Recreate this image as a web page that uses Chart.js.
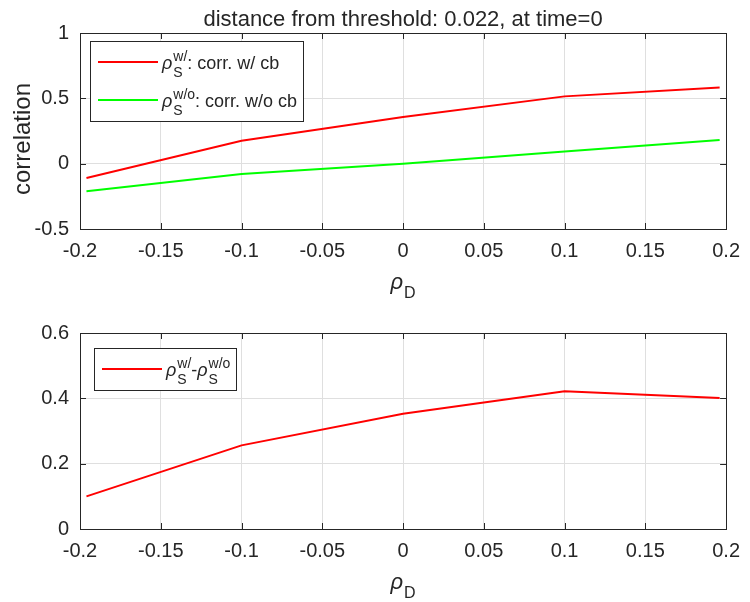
<!DOCTYPE html>
<html>
<head>
<meta charset="utf-8">
<script src="https://cdn.jsdelivr.net/npm/chart.js@4.4.1/dist/chart.umd.min.js"></script>
<style>
  html, body { margin: 0; padding: 0; background: #fff; }
  #wrap { position: relative; width: 750px; height: 602px; }
  .pane { position: absolute; left: 0; width: 750px; height: 301px; }
</style>
</head>
<body>
<div id="wrap">
  <div class="pane" style="top:0"><canvas id="corrChart" width="750" height="301"></canvas></div>
  <div class="pane" style="top:301px"><canvas id="diffChart" width="750" height="301"></canvas></div>
</div>
<script>
// rho_D values the correlations were computed at
const rhoD = [-0.196, -0.1, 0, 0.1, 0.196];
// correlation with / without cb, and their difference
const corrWith = [-0.11, 0.176, 0.357, 0.515, 0.582];
const corrWithout = [-0.212, -0.079, 0.0, 0.094, 0.181];
const corrDiff = [0.10, 0.256, 0.353, 0.422, 0.401];

const xTicks = [-0.2, -0.15, -0.1, -0.05, 0, 0.05, 0.1, 0.15, 0.2];
const xTickLabels = ['-0.2', '-0.15', '-0.1', '-0.05', '0', '0.05', '0.1', '0.15', '0.2'];
const corrTicks = [-0.5, 0, 0.5, 1];
const corrTickLabels = ['-0.5', '0', '0.5', '1'];
const diffTicks = [0, 0.2, 0.4, 0.6];
const diffTickLabels = ['0', '0.2', '0.4', '0.6'];

const FAMILY = '"Liberation Sans", Arial, Helvetica, sans-serif';
const AXIS_COLOR = '#262626';
const GRID_COLOR = '#dfdfdf';

function fontStr(size, italic) {
  return (italic ? 'italic ' : '') + size + 'px ' + FAMILY;
}

// rich text = list of groups {base, italic, sup, sub}; scripts hang off the base like TeX
function richWidth(ctx, groups, size, ratio) {
  const small = Math.round(size * ratio);
  let w = 0;
  for (const g of groups) {
    ctx.font = fontStr(size, g.italic);
    w += ctx.measureText(g.base || '').width + (g.italic ? 1 : 0);
    ctx.font = fontStr(small, false);
    w += Math.max(g.sup ? ctx.measureText(g.sup).width : 0, g.sub ? ctx.measureText(g.sub).width : 0);
  }
  return w;
}

function drawRich(ctx, groups, x, y, size, ratio) {
  const small = Math.round(size * ratio);
  const shift = size * 0.42;
  ctx.textAlign = 'left';
  ctx.textBaseline = 'alphabetic';
  for (const g of groups) {
    if (g.base) {
      ctx.font = fontStr(size, g.italic);
      ctx.fillText(g.base, x, y);
      x += ctx.measureText(g.base).width + (g.italic ? 1 : 0);
    }
    ctx.font = fontStr(small, false);
    let adv = 0;
    if (g.sup) {
      ctx.fillText(g.sup, x, y - shift);
      adv = Math.max(adv, ctx.measureText(g.sup).width);
    }
    if (g.sub) {
      ctx.fillText(g.sub, x, y + shift);
      adv = Math.max(adv, ctx.measureText(g.sub).width);
    }
    x += adv;
  }
  return x;
}

// box around the axes with inward tick marks on all four sides
const axesBox = {
  id: 'axesBox',
  beforeDatasetsDraw(chart) {
    const { ctx, chartArea: a, scales } = chart;
    const len = 6;
    ctx.save();
    ctx.strokeStyle = AXIS_COLOR;
    ctx.lineWidth = 1;
    ctx.beginPath();
    scales.x.ticks.forEach(t => {
      const px = Math.round(scales.x.getPixelForValue(t.value)) + 0.5;
      ctx.moveTo(px, a.bottom); ctx.lineTo(px, a.bottom - len);
      ctx.moveTo(px, a.top); ctx.lineTo(px, a.top + len);
    });
    scales.y.ticks.forEach(t => {
      const py = Math.round(scales.y.getPixelForValue(t.value)) + 0.5;
      ctx.moveTo(a.left, py); ctx.lineTo(a.left + len, py);
      ctx.moveTo(a.right, py); ctx.lineTo(a.right - len, py);
    });
    ctx.stroke();
    ctx.strokeRect(Math.round(a.left) + 0.5, Math.round(a.top) + 0.5,
      Math.round(a.right - a.left), Math.round(a.bottom - a.top));
    ctx.restore();
  }
};

// title, axis labels and the boxed legend
const decorations = {
  id: 'decorations',
  afterDraw(chart, args, opts) {
    const { ctx, chartArea: a } = chart;
    const cx = (a.left + a.right) / 2;
    ctx.save();
    ctx.fillStyle = AXIS_COLOR;
    if (opts.title) {
      ctx.font = fontStr(22, false);
      ctx.textAlign = 'center';
      ctx.textBaseline = 'alphabetic';
      ctx.fillText(opts.title, cx, a.top - 7);
    }
    if (opts.yTitle) {
      ctx.save();
      ctx.translate(30, (a.top + a.bottom) / 2 + 8);
      ctx.rotate(-Math.PI / 2);
      ctx.font = fontStr(24, false);
      ctx.textAlign = 'center';
      ctx.textBaseline = 'alphabetic';
      ctx.fillText(opts.yTitle, 0, 0);
      ctx.restore();
    }
    const xLabel = [{ base: 'ρ', italic: true, sub: 'D' }];
    const w = richWidth(ctx, xLabel, 22, 0.74);
    drawRich(ctx, xLabel, cx - w / 2, a.bottom + 60, 22, 0.74);

    // legend
    const sets = chart.data.datasets;
    const size = 18;
    const bx = a.left + opts.legendX;
    const by = a.top + opts.legendY;
    let textW = 0;
    sets.forEach(ds => { textW = Math.max(textW, richWidth(ctx, ds.richLabel, size, 0.78)); });
    const bw = 8 + 60 + 4 + textW + 6;
    const bh = 42 + 38 * (sets.length - 1);
    ctx.fillStyle = '#fff';
    ctx.fillRect(bx, by, bw, bh);
    ctx.strokeStyle = AXIS_COLOR;
    ctx.lineWidth = 1;
    ctx.strokeRect(Math.round(bx) + 0.5, Math.round(by) + 0.5, Math.round(bw), Math.round(bh));
    sets.forEach((ds, i) => {
      const ry = by + 21 + 38 * i;
      ctx.strokeStyle = ds.borderColor;
      ctx.lineWidth = 2;
      ctx.beginPath();
      ctx.moveTo(bx + 8, ry);
      ctx.lineTo(bx + 68, ry);
      ctx.stroke();
      ctx.fillStyle = AXIS_COLOR;
      drawRich(ctx, ds.richLabel, bx + 72, ry + 7, size, 0.78);
    });
    ctx.restore();
  }
};

function makeChart(id, datasets, yMin, yMax, yTicks, yLabels, extra) {
  const ctx = document.getElementById(id).getContext('2d');
  return new Chart(ctx, {
    type: 'line',
    data: {
      datasets: datasets.map(d => ({
        label: d.label,
        richLabel: d.richLabel,
        data: rhoD.map((x, i) => ({ x: x, y: d.values[i] })),
        borderColor: d.color,
        backgroundColor: d.color,
        borderWidth: 2,
        pointRadius: 0,
        tension: 0,
        fill: false
      }))
    },
    options: {
      responsive: false,
      animation: false,
      devicePixelRatio: 1,
      layout: { padding: { top: extra.top, right: 17, left: 0, bottom: 0 } },
      plugins: {
        legend: { display: false },
        tooltip: { enabled: false },
        decorations: extra
      },
      scales: {
        x: {
          type: 'linear',
          min: -0.2,
          max: 0.2,
          afterBuildTicks: s => { s.ticks = xTicks.map(v => ({ value: v })); },
          afterFit: s => { s.height = 301 - extra.top - 196; },
          ticks: {
            callback: (v, i) => xTickLabels[i],
            font: { family: FAMILY, size: 20 },
            color: AXIS_COLOR,
            padding: 10,
            maxRotation: 0,
            autoSkip: false
          },
          grid: { color: GRID_COLOR, drawTicks: false },
          border: { display: false }
        },
        y: {
          min: yMin,
          max: yMax,
          afterBuildTicks: s => { s.ticks = yTicks.map(v => ({ value: v })); },
          afterFit: s => { s.width = 80; },
          ticks: {
            callback: (v, i) => yLabels[i],
            font: { family: FAMILY, size: 20 },
            color: AXIS_COLOR,
            padding: 11
          },
          grid: { color: GRID_COLOR, drawTicks: false },
          border: { display: false }
        }
      }
    },
    plugins: [axesBox, decorations]
  });
}

makeChart('corrChart', [
  { label: 'rho_S w/: corr. w/ cb', values: corrWith, color: '#ff0000',
    richLabel: [{ base: 'ρ', italic: true, sup: 'w/', sub: 'S' }, { base: ': corr. w/ cb' }] },
  { label: 'rho_S w/o: corr. w/o cb', values: corrWithout, color: '#00ff00',
    richLabel: [{ base: 'ρ', italic: true, sup: 'w/o', sub: 'S' }, { base: ': corr. w/o cb' }] }
], -0.5, 1, corrTicks, corrTickLabels,
  { top: 33, title: 'distance from threshold: 0.022, at time=0', yTitle: 'correlation', legendX: 10, legendY: 8 });

makeChart('diffChart', [
  { label: 'rho_S w/ - rho_S w/o', values: corrDiff, color: '#ff0000',
    richLabel: [{ base: 'ρ', italic: true, sup: 'w/', sub: 'S' }, { base: '-' },
                { base: 'ρ', italic: true, sup: 'w/o', sub: 'S' }] }
], 0, 0.6, diffTicks, diffTickLabels,
  { top: 32, title: '', yTitle: '', legendX: 14, legendY: 15 });
</script>
</body>
</html>
